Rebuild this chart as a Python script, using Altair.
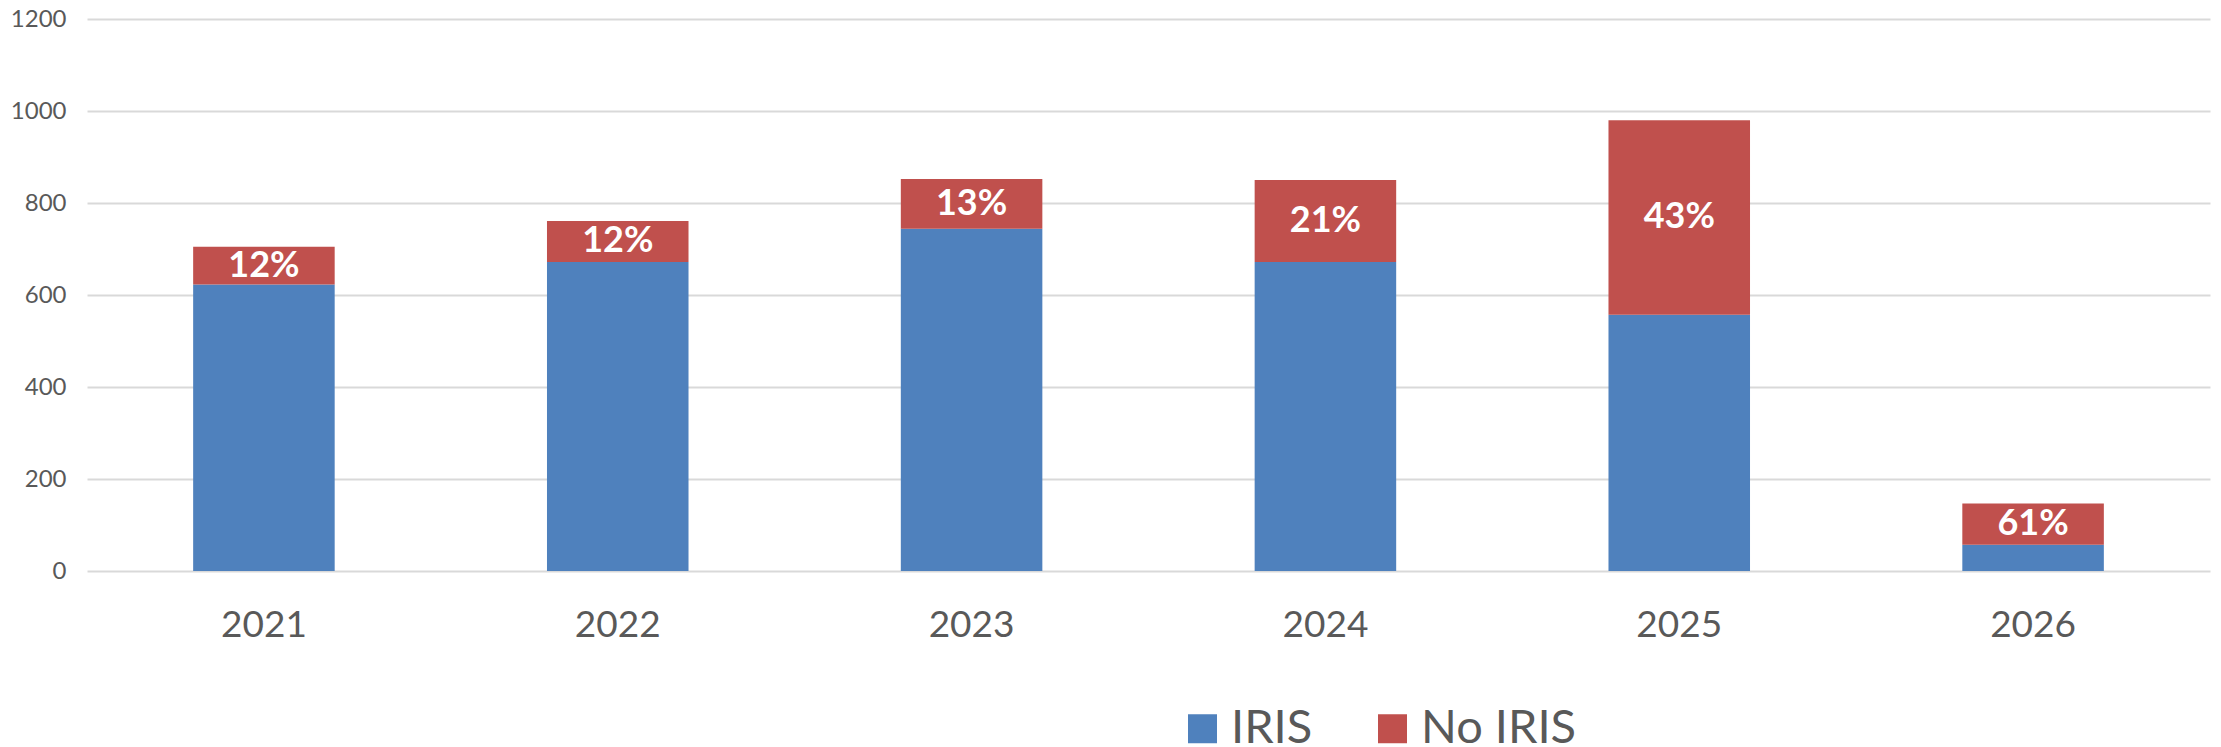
import altair as alt
import pandas as pd

years = ["2021", "2022", "2023", "2024", "2025", "2026"]
iris = [623, 672, 744, 672, 557, 57]
no_iris = [82, 89, 108, 178, 423, 90]
pct_labels = ["12%", "12%", "13%", "21%", "43%", "61%"]
series = ["IRIS", "No IRIS"]
colors = ["#4F81BD", "#C0504D"]

rows = []
for y, a, b in zip(years, iris, no_iris):
    rows.append({"year": y, "series": series[0], "idx": 0, "value": a})
    rows.append({"year": y, "series": series[1], "idx": 1, "value": b})
long_df = pd.DataFrame(rows)

wide_df = pd.DataFrame({"year": years, "iris": iris, "no_iris": no_iris, "label": pct_labels})

FONT = "Lato"
GRAY = "#595959"

x_enc = alt.X(
    "year:N",
    sort=years,
    scale=alt.Scale(paddingInner=0.6, paddingOuter=0.3),
    axis=alt.Axis(
        title=None, labelAngle=0, ticks=False, domain=False, grid=False,
        labelFontSize=37, labelColor=GRAY, labelFont=FONT, labelPadding=36,
    ),
)

bars = alt.Chart(long_df).mark_bar().encode(
    x=x_enc,
    y=alt.Y(
        "value:Q",
        stack="zero",
        scale=alt.Scale(domain=[0, 1200], nice=False),
        axis=alt.Axis(
            title=None, values=[0, 200, 400, 600, 800, 1000, 1200], ticks=False,
            format="d",
            domain=False, grid=True, gridColor="#D9D9D9", gridWidth=2,
            labelFontSize=24, labelColor=GRAY, labelFont=FONT, labelPadding=21,
        ),
    ),
    color=alt.Color(
        "series:N",
        scale=alt.Scale(domain=series, range=colors),
        legend=alt.Legend(
            title=None, orient="none", legendX=1092, legendY=686,
            direction="horizontal", columns=2, symbolType="square",
            symbolSize=841, symbolStrokeWidth=0, symbolOpacity=1,
            labelFontSize=47, labelFont=FONT, labelColor=GRAY, labelOffset=5,
            columnPadding=56, labelLimit=500, padding=0,
        ),
    ),
    order=alt.Order("idx:Q", sort="ascending"),
)

text = alt.Chart(wide_df).transform_calculate(
    mid="datum.iris + datum.no_iris / 2"
).mark_text(
    font=FONT, fontSize=36, fontWeight="bold", color="white",
    align="center", baseline="middle",
).encode(
    x=alt.X("year:N", sort=years),
    y=alt.Y("mid:Q"),
    text="label:N",
)

chart = alt.layer(bars, text).properties(
    width=2123,
    height=552,
    autosize=alt.AutoSizeParams(type="none"),
    padding={"left": 79, "top": 11, "right": 2, "bottom": 176},
).configure_view(stroke=None)

chart.save("out.html", embed_options={"renderer": "svg", "actions": False})
